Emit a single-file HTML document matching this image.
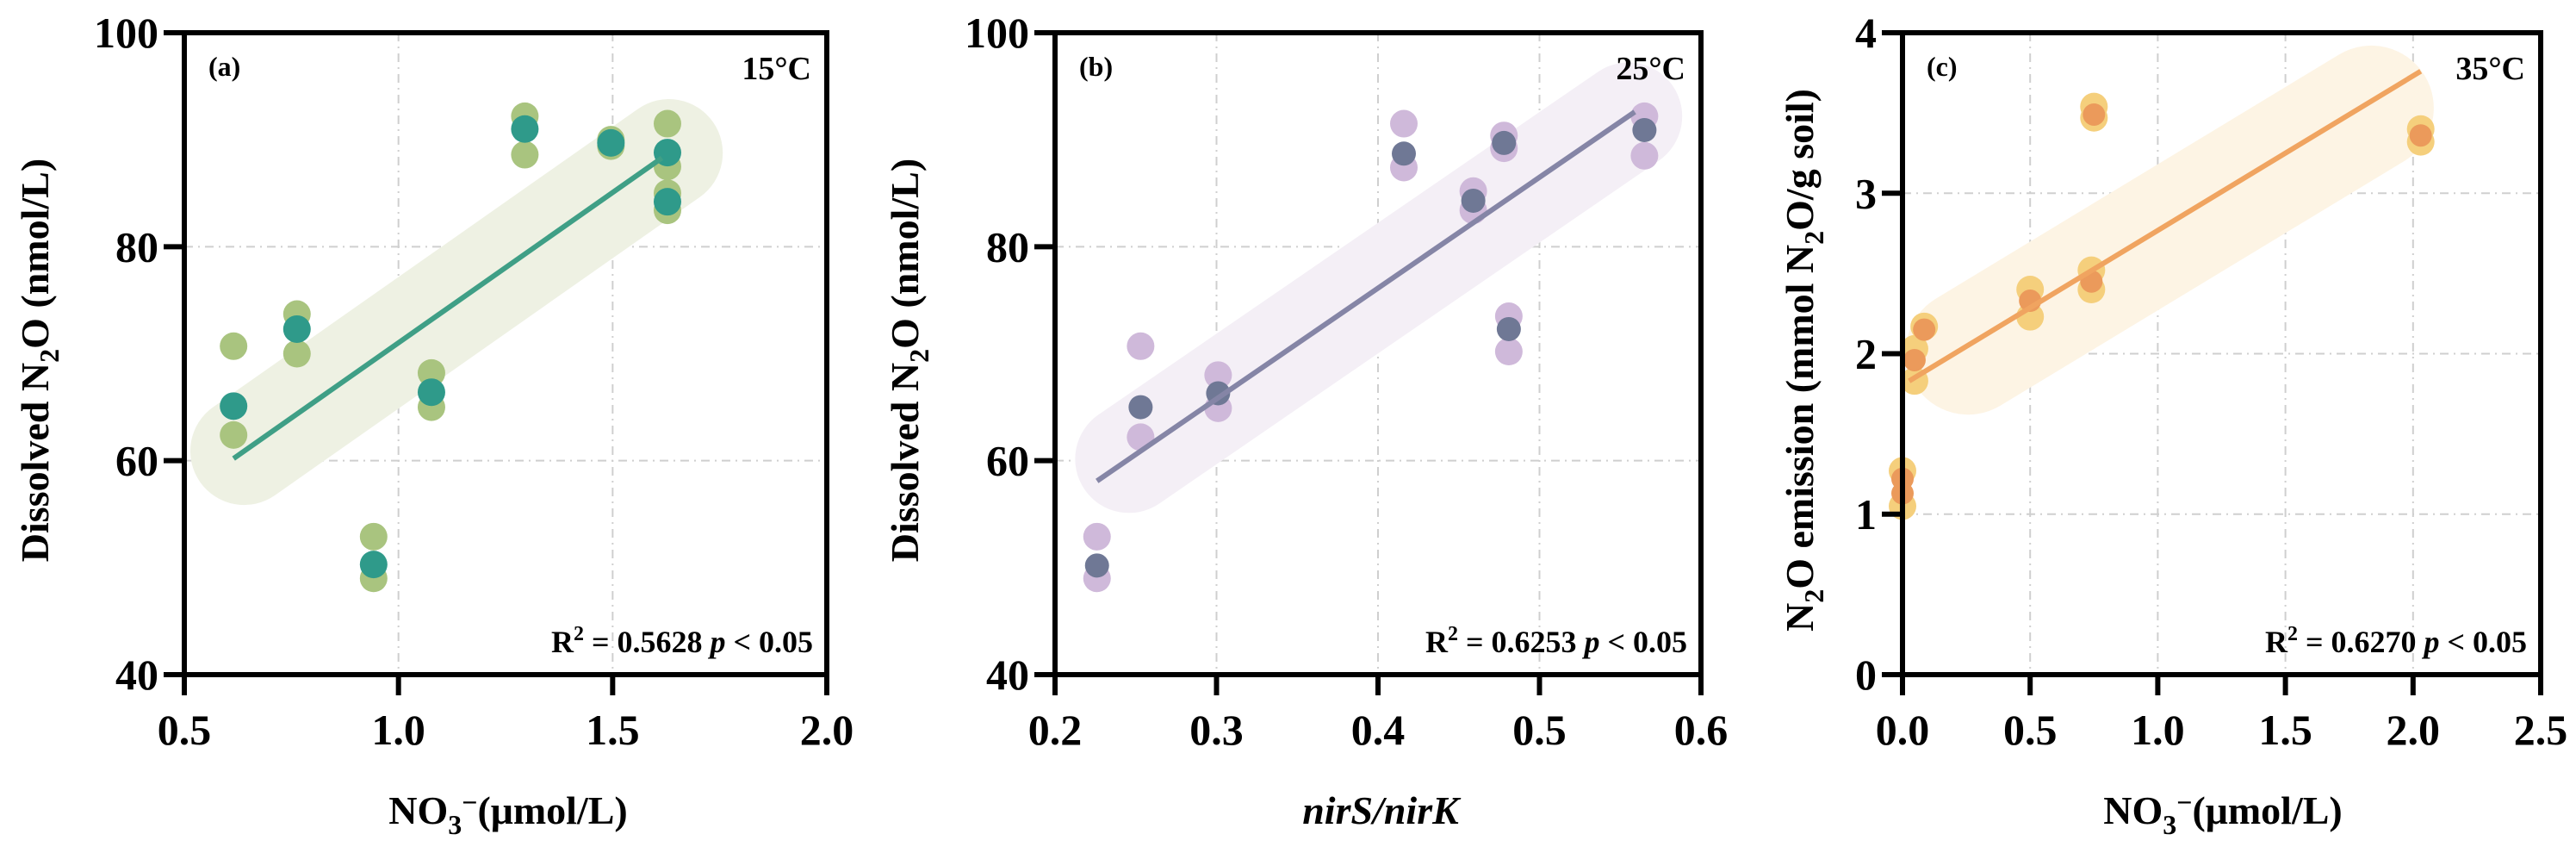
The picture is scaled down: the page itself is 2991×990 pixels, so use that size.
<!DOCTYPE html>
<html><head><meta charset="utf-8"><style>
html,body{margin:0;padding:0;background:#fff;}
svg{display:block;font-family:"Liberation Serif",serif;}
</style></head><body>
<svg id="fig" width="2991" height="990" viewBox="0 0 2991 990" xmlns="http://www.w3.org/2000/svg"></svg>
<script>
// Panel a data
const aLightX = [0.615,0.615,0.763,0.763,0.942,0.942,1.077,1.077,1.295,1.295,1.496,1.496,1.628,1.628,1.628,1.628];
const aLightY = [70.7,62.4,73.7,70.0,52.9,49.0,68.2,65.0,92.2,88.6,90.0,89.4,91.5,87.5,85.0,83.4];
const aDarkX = [0.615,0.763,0.942,1.077,1.295,1.496,1.628,1.628];
const aDarkY = [65.1,72.3,50.3,66.4,91.0,89.7,88.8,84.2];
const aFitX = [0.615,1.615];
const aFitY = [60.2,88.3];
const aXTicks = [0.5,1.0,1.5,2.0];
const aYTicks = [40,60,80,100];
// Panel b data
const bLightX = [0.226,0.226,0.253,0.253,0.301,0.301,0.416,0.416,0.459,0.459,0.478,0.478,0.481,0.481,0.565,0.565];
const bLightY = [52.9,49.0,70.7,62.2,68.0,64.9,91.5,87.4,85.2,83.4,90.4,89.2,73.5,70.2,92.2,88.5];
const bDarkX = [0.226,0.253,0.301,0.416,0.459,0.478,0.481,0.565];
const bDarkY = [50.2,65.0,66.3,88.7,84.3,89.7,72.3,90.9];
const bFitX = [0.226,0.559];
const bFitY = [58.1,92.6];
const bXTicks = [0.2,0.3,0.4,0.5,0.6];
const bYTicks = [40,60,80,100];
// Panel c data
const cLightX = [0.0,0.0,0.047,0.047,0.085,0.5,0.5,0.74,0.74,0.75,0.75,2.03,2.03];
const cLightY = [1.27,1.05,2.03,1.83,2.17,2.40,2.23,2.52,2.40,3.54,3.47,3.40,3.32];
const cDarkX = [0.0,0.0,0.047,0.085,0.5,0.74,0.75,2.03];
const cDarkY = [1.22,1.13,1.96,2.15,2.33,2.45,3.49,3.36];
const cFitX = [0.026,2.03];
const cFitY = [1.83,3.76];
const cXTicks = [0.0,0.5,1.0,1.5,2.0,2.5];
const cYTicks = [0,1,2,3,4];

const NS = "http://www.w3.org/2000/svg";
const svg = document.getElementById('fig');
function mk(tag, attrs, parent){
  const e = document.createElementNS(NS, tag);
  for (const k in attrs) e.setAttribute(k, attrs[k]);
  (parent||svg).appendChild(e);
  return e;
}
function fmt(v, d){ return v.toFixed(d); }

function panel(o){
  const g = mk('g', {});
  
  
  const L=o.left, R=o.right, T=38, B=783;
  const xs = v => L + (v - o.xmin)/(o.xmax - o.xmin)*(R-L);
  const ys = v => B - (v - o.ymin)/(o.ymax - o.ymin)*(B-T);
  o.xt.forEach(t=>{ if(t>o.xmin && t<o.xmax){
    const l = mk('line',{x1:xs(t),x2:xs(t),y1:T,y2:B,stroke:'#cfcfcf','stroke-width':2,'stroke-dasharray':'10 6 2 6'},g);
    
    
  }});
  o.yt.forEach(t=>{ if(t>o.ymin && t<o.ymax){
    const l = mk('line',{x1:L,x2:R,y1:ys(t),y2:ys(t),stroke:'#cfcfcf','stroke-width':2,'stroke-dasharray':'10 6 2 6'},g);
    
    
  }});
  const x0=xs(o.fx[0]), y0=ys(o.fy[0]), x1=xs(o.fx[1]), y1=ys(o.fy[1]);
  const dx=x1-x0, dy=y1-y0, len=Math.hypot(dx,dy), ux=dx/len, uy=dy/len;
  const band = mk('line',{x1:x0+ux*o.bandStart,y1:y0+uy*o.bandStart+o.bandDy,x2:x1+ux*o.bandEnd,y2:y1+uy*o.bandEnd+o.bandDy,stroke:o.bandColor,'stroke-width':o.bandW,'stroke-linecap':'round'},g);
  
  
  o.lx.forEach((v,i)=>{
    const c = mk('circle',{cx:xs(v),cy:ys(o.ly[i]),r:16,fill:o.lightColor},g);
    
    
  });
  o.dx.forEach((v,i)=>{
    const c = mk('circle',{cx:xs(v),cy:ys(o.dy[i]),r:o.darkR,fill:o.darkColor},g);
    
    
  });
  const fl = mk('line',{x1:x0,y1:y0,x2:x1,y2:y1,stroke:o.lineColor,'stroke-width':6},g);
  
  
  const fr = mk('rect',{x:L,y:T,width:R-L,height:B-T,fill:'none',stroke:'#000','stroke-width':6},g);
  
  
  o.xt.forEach(t=>{
    const tk = mk('line',{x1:xs(t),x2:xs(t),y1:B,y2:B+24,stroke:'#000','stroke-width':6},g);
    
    
    const tx = mk('text',{x:xs(t),y:864,'text-anchor':'middle','font-size':50,'font-weight':'bold'},g);
    tx.textContent = fmt(t,1);
    
    
  });
  o.yt.forEach(t=>{
    const tk = mk('line',{x1:L-24,x2:L,y1:ys(t),y2:ys(t),stroke:'#000','stroke-width':6},g);
    
    
    const tx = mk('text',{x:L-30,y:ys(t)+17,'text-anchor':'end','font-size':50,'font-weight':'bold'},g);
    tx.textContent = String(t);
    
    
  });
  const pl = mk('text',{x:L+28,y:T+50,'font-size':32,'font-weight':'bold'},g);
  pl.textContent = o.label;
  
  
  const tl = mk('text',{x:R-18,y:T+54,'text-anchor':'end','font-size':38,'font-weight':'bold'},g);
  tl.textContent = o.temp;
  
  
  const st = mk('text',{x:R-16,y:B-26,'text-anchor':'end','font-size':36,'font-weight':'bold'},g);
  st.innerHTML = 'R<tspan dy="-14" font-size="24">2</tspan><tspan dy="14"> = '+o.r2+' </tspan><tspan font-style="italic">p</tspan><tspan> &lt; 0.05</tspan>';
  
  
  const xt = mk('text',{x:o.xtx,y:956,'text-anchor':'middle','font-size':46,'font-weight':'bold'},g);
  xt.innerHTML = o.xtitle;
  
  
  const yt = mk('text',{x:0,y:0,'text-anchor':'middle','font-size':46,'font-weight':'bold',transform:'translate('+o.ytx+',418) rotate(-90)'},g);
  yt.innerHTML = o.ytitle;
  
  
}

const no3 = 'NO<tspan dy="12" font-size="32">3</tspan><tspan dy="-26" font-size="32">−</tspan><tspan dy="14">(μmol/L)</tspan>';
const dn2o = 'Dissolved N<tspan dy="12" font-size="32">2</tspan><tspan dy="-12">O (nmol/L)</tspan>';

panel({name:'panel-a',left:214,right:960,xmin:0.5,xmax:2.0,ymin:40,ymax:100,xt:aXTicks,yt:aYTicks,
  lx:aLightX,ly:aLightY,dx:aDarkX,dy:aDarkY,fx:aFitX,fy:aFitY,
  lightColor:'#a9c47f',darkColor:'#2f9a8a',darkR:16,lineColor:'#3f9f86',bandColor:'#eef1e3',bandW:125,bandStart:15,bandEnd:10,bandDy:0,
  label:'(a)',temp:'15°C',r2:'0.5628',xtx:590,xtitle:no3,ytx:56,ytitle:dn2o});
panel({name:'panel-b',left:1225,right:1975,xmin:0.2,xmax:0.6,ymin:40,ymax:100,xt:bXTicks,yt:bYTicks,
  lx:bLightX,ly:bLightY,dx:bDarkX,dy:bDarkY,fx:bFitX,fy:bFitY,
  lightColor:'#cfb9da',darkColor:'#6f7895',darkR:14,lineColor:'#8585a6',bandColor:'#f4eff6',bandW:125,bandStart:45,bandEnd:-9,bandDy:0,
  label:'(b)',temp:'25°C',r2:'0.6253',xtx:1603,xtitle:'<tspan font-style="italic">nirS/nirK</tspan>',ytx:1066,ytitle:dn2o});
panel({name:'panel-c',left:2209,right:2950,xmin:0,xmax:2.5,ymin:0,ymax:4,xt:cXTicks,yt:cYTicks,
  lx:cLightX,ly:cLightY,dx:cDarkX,dy:cDarkY,fx:cFitX,fy:cFitY,
  lightColor:'#f5cf7c',darkColor:'#eb9a5b',darkR:13,lineColor:'#f0a460',bandColor:'#fdf4e4',bandW:145,bandStart:80,bandEnd:-67,bandDy:8,
  label:'(c)',temp:'35°C',r2:'0.6270',xtx:2581,xtitle:no3,ytx:2105,
  ytitle:'N<tspan dy="12" font-size="32">2</tspan><tspan dy="-12">O emission (mmol N</tspan><tspan dy="12" font-size="32">2</tspan><tspan dy="-12">O/g soil)</tspan>'});
</script>
</body></html>
